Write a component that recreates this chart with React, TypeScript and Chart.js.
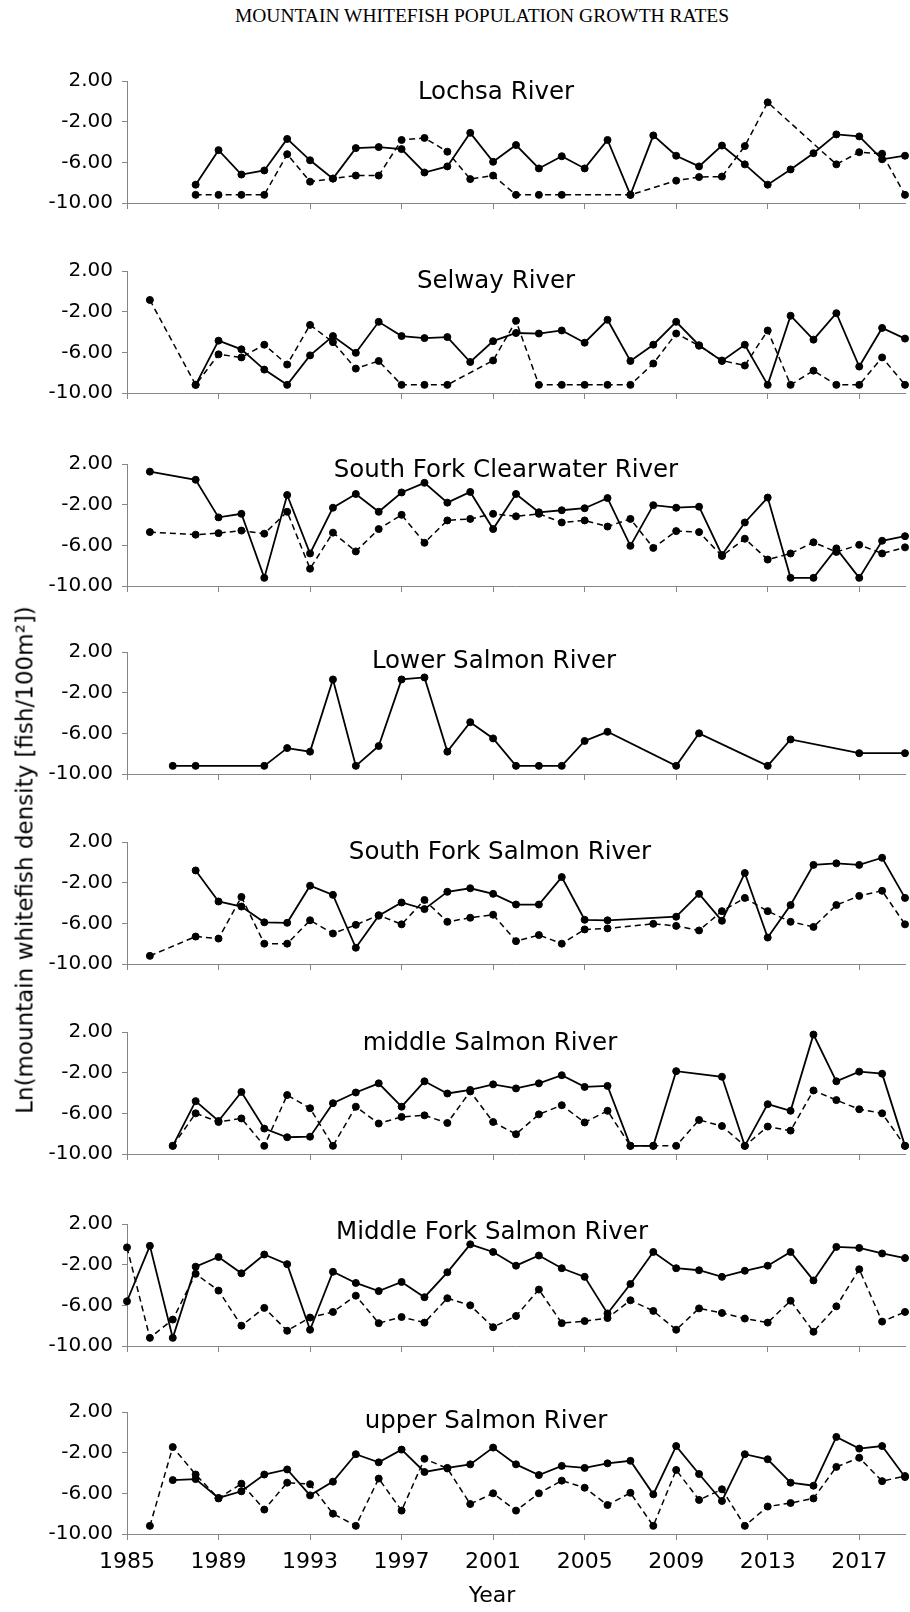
import React, { useEffect, useRef } from "react";
import { Chart, registerables } from "chart.js";

Chart.register(...registerables);
Chart.defaults.font.family = '"DejaVu Sans", sans-serif';

const YEARS = [
  1985, 1986, 1987, 1988, 1989, 1990, 1991, 1992, 1993, 1994, 1995, 1996,
  1997, 1998, 1999, 2000, 2001, 2002, 2003, 2004, 2005, 2006, 2007, 2008,
  2009, 2010, 2011, 2012, 2013, 2014, 2015, 2016, 2017, 2018, 2019,
];
const X_TICKS = [1985, 1989, 1993, 1997, 2001, 2005, 2009, 2013, 2017];
const Y_TICKS = [2, -2, -6, -10];

const MAIN_TITLE = "MOUNTAIN WHITEFISH POPULATION GROWTH RATES";
const Y_TITLE = "Ln(mountain whitefish density [fish/100m\u00B2])";
const X_TITLE = "Year";

const n = null;

const lochsaSolid = [n, n, n, -8.2, -4.8, -7.2, -6.8, -3.7, -5.8, -7.6, -4.6, -4.5, -4.7, -7.0, -6.4, -3.1, -5.95, -4.3, -6.6, -5.4, -6.6, -3.8, -9.2, -3.35, -5.35, -6.4, -4.35, -6.2, -8.2, -6.7, -5.1, -3.25, -3.45, -5.7, -5.35];
const lochsaDashed = [n, n, n, -9.2, -9.2, -9.2, -9.2, -5.2, -7.9, -7.6, -7.3, -7.3, -3.8, -3.6, -4.95, -7.65, -7.3, -9.2, -9.2, -9.2, n, n, -9.2, n, -7.8, -7.45, -7.4, -4.4, -0.1, n, n, -6.2, -5.0, -5.15, -9.2];

const selwaySolid = [n, n, n, -9.2, -4.85, -5.7, -7.7, -9.2, -6.3, -4.4, -6.05, -3.0, -4.4, -4.6, -4.5, -6.95, -4.9, -4.1, -4.15, -3.85, -5.05, -2.8, -6.85, -5.25, -3.0, -5.3, -6.85, -5.25, -9.2, -2.4, -4.75, -2.15, -7.4, -3.6, -4.65];
const selwayDashed = [n, -0.85, n, -9.2, -6.2, -6.5, -5.25, -7.2, -3.3, -5.0, -7.6, -6.85, -9.2, -9.2, -9.2, n, -6.8, -2.9, -9.2, -9.2, -9.2, -9.2, -9.2, -7.1, -4.15, -5.35, -6.8, -7.3, -3.85, -9.2, -7.8, -9.2, -9.2, -6.5, -9.2];

const sfClearSolid = [n, 1.25, n, 0.45, -3.25, -2.9, -9.2, -1.05, -6.8, -2.3, -0.95, -2.7, -0.8, 0.15, -1.8, -0.75, -4.4, -0.95, -2.75, -2.55, -2.35, -1.35, -6.05, -2.05, -2.3, -2.2, -6.95, -3.75, -1.3, -9.2, -9.2, -6.3, -9.2, -5.55, -5.1];
const sfClearDashed = [n, -4.7, n, -4.95, -4.8, -4.55, -4.85, -2.7, -8.3, -4.75, -6.6, -4.4, -3.0, -5.75, -3.55, -3.4, -2.9, -3.15, -2.9, -3.75, -3.55, -4.15, -3.4, -6.25, -4.6, -4.7, -7.05, -5.35, -7.4, -6.8, -5.7, -6.65, -5.95, -6.8, -6.2];

const lowerSalmonSolid = [n, n, -9.2, -9.2, n, n, -9.2, -7.45, -7.8, -0.7, -9.2, -7.25, -0.7, -0.5, -7.8, -4.9, -6.5, -9.2, -9.2, -9.2, -6.75, -5.85, n, n, -9.2, -6.0, n, n, -9.2, -6.6, n, n, -7.95, n, -7.95];

const sfSalmonSolid = [n, n, n, -0.8, -3.85, -4.35, -5.9, -5.95, -2.3, -3.2, -8.4, -5.25, -3.95, -4.6, -2.9, -2.55, -3.1, -4.15, -4.15, -1.45, -5.65, -5.7, n, n, -5.35, -3.1, -5.75, -1.05, -7.4, -4.2, -0.25, -0.1, -0.25, 0.45, -3.5];
const sfSalmonDashed = [n, -9.2, n, -7.3, -7.5, -3.4, -8.0, -8.0, -5.7, -7.0, -6.15, -5.2, -6.1, -3.7, -5.85, -5.45, -5.15, -7.75, -7.15, -8.0, -6.6, -6.5, n, -6.05, -6.25, -6.7, -4.8, -3.5, -4.8, -5.85, -6.35, -4.2, -3.3, -2.8, -6.1];

const midSalmonSolid = [n, n, -9.2, -4.8, -6.75, -3.9, -7.5, -8.35, -8.3, -5.0, -3.95, -3.05, -5.35, -2.85, -4.05, -3.7, -3.15, -3.55, -3.05, -2.25, -3.4, -3.3, -9.2, -9.2, -1.85, n, -2.4, -9.2, -5.1, -5.75, 1.75, -2.85, -1.9, -2.1, -9.2];
const midSalmonDashed = [n, n, -9.2, -6.0, -6.85, -6.5, -9.2, -4.2, -5.5, -9.2, -5.35, -7.0, -6.35, -6.2, -6.95, -3.85, -6.85, -8.05, -6.1, -5.2, -6.9, -5.75, -9.2, -9.2, -9.2, -6.65, -7.25, -9.2, -7.3, -7.7, -3.75, -4.7, -5.6, -6.0, -9.2];

const mfSalmonSolid = [-5.6, -0.15, -9.2, -2.2, -1.25, -2.85, -1.0, -1.95, -8.4, -2.7, -3.8, -4.6, -3.7, -5.2, -2.75, 0.0, -0.75, -2.1, -1.1, -2.35, -3.2, -6.8, -3.9, -0.75, -2.35, -2.55, -3.2, -2.6, -2.1, -0.75, -3.55, -0.25, -0.35, -0.9, -1.35];
const mfSalmonDashed = [-0.3, -9.2, -7.4, -2.9, -4.55, -8.0, -6.25, -8.5, -7.2, -6.65, -5.05, -7.75, -7.15, -7.7, -5.3, -6.0, -8.15, -7.05, -4.45, -7.75, -7.55, -7.25, -5.5, -6.55, -8.4, -6.3, -6.75, -7.3, -7.7, -5.55, -8.6, -6.1, -2.45, -7.6, -6.65];

const upSalmonSolid = [n, n, -4.7, -4.6, -6.45, -5.8, -4.15, -3.65, -6.2, -4.85, -2.15, -2.95, -1.7, -3.9, -3.5, -3.15, -1.5, -3.15, -4.2, -3.3, -3.5, -3.05, -2.8, -6.1, -1.35, -4.1, -6.75, -2.15, -2.65, -4.95, -5.25, -0.45, -1.6, -1.35, -4.4];
const upSalmonDashed = [n, -9.2, -1.45, -4.15, -6.5, -5.05, -7.6, -4.95, -5.1, -8.0, -9.2, -4.55, -7.7, -2.6, -3.55, -7.05, -6.0, -7.7, -6.0, -4.75, -5.45, -7.15, -5.95, -9.2, -3.7, -6.65, -5.6, -9.2, -7.3, -6.95, -6.5, -3.4, -2.5, -4.8, -4.3];

type Panel = {
  title: string;
  solid: (number | null)[];
  dashed: (number | null)[] | null;
  top: number;
  titleX: number;
  titleOffset: number;
};

const PANELS: Panel[] = [
  { title: "Lochsa River", solid: lochsaSolid, dashed: lochsaDashed, top: 81, titleX: 496, titleOffset: 18 },
  { title: "Selway River", solid: selwaySolid, dashed: selwayDashed, top: 271, titleX: 496, titleOffset: 17 },
  { title: "South Fork Clearwater River", solid: sfClearSolid, dashed: sfClearDashed, top: 464, titleX: 506, titleOffset: 13 },
  { title: "Lower Salmon River", solid: lowerSalmonSolid, dashed: null, top: 652, titleX: 494, titleOffset: 16 },
  { title: "South Fork Salmon River", solid: sfSalmonSolid, dashed: sfSalmonDashed, top: 842, titleX: 500, titleOffset: 17 },
  { title: "middle Salmon River", solid: midSalmonSolid, dashed: midSalmonDashed, top: 1032, titleX: 490, titleOffset: 18 },
  { title: "Middle Fork Salmon River", solid: mfSalmonSolid, dashed: mfSalmonDashed, top: 1224, titleX: 492, titleOffset: 15 },
  { title: "upper Salmon River", solid: upSalmonSolid, dashed: upSalmonDashed, top: 1412, titleX: 486, titleOffset: 16 },
];

const PLOT_H = 122;
const PAD_TOP = 12;
const AXIS_GRAY = "#868686";

const panelTitlePlugin = {
  id: "panelTitle",
  beforeDatasetsDraw(chart: any, _args: any, opts: any) {
    const { ctx, chartArea } = chart;
    ctx.save();
    ctx.font = `${opts.size}px "DejaVu Sans"`;
    ctx.fillStyle = "#000";
    ctx.textAlign = "center";
    ctx.textBaseline = "alphabetic";
    ctx.fillText(opts.text, opts.x, chartArea.top + opts.offset);
    ctx.restore();
  },
};

function toPoints(vals: (number | null)[]) {
  return YEARS.map((yr, i) => ({ x: yr, y: vals[i] }));
}

function PanelChart({ panel, last }: { panel: Panel; last: boolean }) {
  const ref = useRef<HTMLCanvasElement | null>(null);
  const canvasTop = panel.top - PAD_TOP;
  const height = last ? 1612 - canvasTop : PAD_TOP + PLOT_H + 10;
  const axisH = height - PAD_TOP - PLOT_H;

  useEffect(() => {
    if (!ref.current) return;
    const common = {
      borderColor: "#000",
      backgroundColor: "#000",
      pointRadius: 3.5,
      pointBorderWidth: 1,
      pointBackgroundColor: "#000",
      pointBorderColor: "#000",
      spanGaps: true,
      tension: 0,
      clip: false,
    };
    const datasets: any[] = [
      { ...common, data: toPoints(panel.solid), borderWidth: 1.8 },
    ];
    if (panel.dashed) {
      datasets.push({ ...common, data: toPoints(panel.dashed), borderWidth: 1.5, borderDash: [6, 4] });
    }
    const chart = new Chart(ref.current, {
      type: "line",
      data: { datasets },
      plugins: [panelTitlePlugin],
      options: {
        responsive: false,
        animation: false,
        events: [],
        layout: { padding: { top: PAD_TOP, right: 3, bottom: 0, left: 0 } },
        plugins: {
          legend: { display: false },
          tooltip: { enabled: false },
          panelTitle: { text: panel.title, x: panel.titleX, offset: panel.titleOffset, size: 24.5 },
        } as any,
        scales: {
          x: {
            type: "linear",
            min: 1985,
            max: 2019,
            afterBuildTicks: (axis: any) => {
              axis.ticks = X_TICKS.map((v) => ({ value: v }));
            },
            afterFit: (axis: any) => {
              axis.height = axisH;
              axis.paddingLeft = 0;
              axis.paddingRight = 0;
            },
            grid: { drawOnChartArea: false, drawTicks: true, tickLength: 6, color: AXIS_GRAY, lineWidth: 1 },
            border: { display: true, color: AXIS_GRAY, width: 1 },
            ticks: {
              display: last,
              autoSkip: false,
              maxRotation: 0,
              padding: 9,
              color: "#000",
              font: { size: 22 },
              callback: (v: any) => String(v),
            },
          },
          y: {
            type: "linear",
            min: -10,
            max: 2,
            afterBuildTicks: (axis: any) => {
              axis.ticks = Y_TICKS.map((v) => ({ value: v }));
            },
            afterFit: (axis: any) => {
              axis.width = 127;
              axis.paddingTop = 0;
              axis.paddingBottom = 0;
            },
            grid: { drawOnChartArea: false, drawTicks: true, tickLength: 5, color: AXIS_GRAY, lineWidth: 1 },
            border: { display: true, color: AXIS_GRAY, width: 1 },
            ticks: {
              padding: 9,
              color: "#000",
              font: { size: 20 },
              callback: (v: any) => Number(v).toFixed(2),
            },
          },
        },
      } as any,
    });
    return () => chart.destroy();
  }, []);

  return (
    <canvas
      ref={ref}
      width={910}
      height={height}
      style={{ position: "absolute", left: 0, top: canvasTop, width: 910, height, display: "block" }}
    />
  );
}

export default function App() {
  return (
    <div
      style={{
        position: "absolute",
        left: 0,
        top: 0,
        width: 910,
        height: 1612,
        background: "#fff",
        overflow: "hidden",
      }}
    >
      <div
        style={{
          position: "absolute",
          top: 6,
          left: 482,
          transform: "translateX(-50%)",
          whiteSpace: "nowrap",
          fontFamily: '"Liberation Serif", serif',
          fontSize: 19.5,
          lineHeight: 1,
          color: "#000",
        }}
      >
        {MAIN_TITLE}
      </div>
      {PANELS.map((p, i) => (
        <PanelChart key={p.title} panel={p} last={i === PANELS.length - 1} />
      ))}
      <div
        style={{
          position: "absolute",
          left: 25,
          top: 860,
          transform: "translate(-50%, -50%) rotate(-90deg)",
          whiteSpace: "nowrap",
          fontFamily: '"DejaVu Sans", sans-serif',
          fontSize: 23,
          lineHeight: 1,
          color: "#000",
        }}
      >
        {Y_TITLE}
      </div>
      <div
        style={{
          position: "absolute",
          left: 492,
          top: 1584,
          transform: "translateX(-50%)",
          whiteSpace: "nowrap",
          fontFamily: '"DejaVu Sans", sans-serif',
          fontSize: 22,
          lineHeight: 1,
          color: "#000",
        }}
      >
        {X_TITLE}
      </div>
    </div>
  );
}
